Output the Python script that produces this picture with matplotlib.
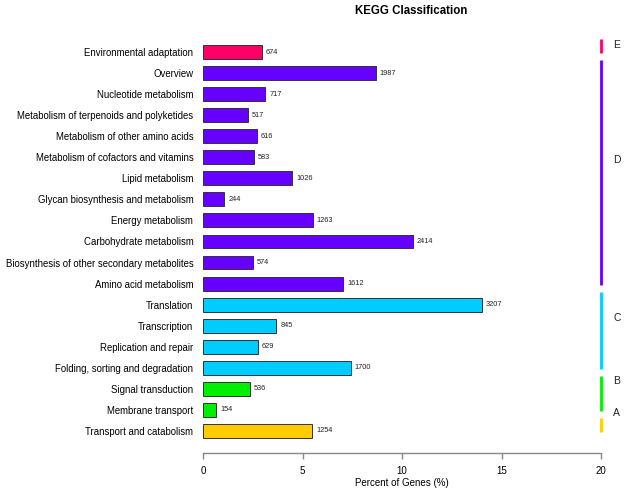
import matplotlib
matplotlib.use("Agg")
import matplotlib.pyplot as plt

# Data (top to bottom)
CATEGORIES = [
    "Environmental adaptation",
    "Overview",
    "Nucleotide metabolism",
    "Metabolism of terpenoids and polyketides",
    "Metabolism of other amino acids",
    "Metabolism of cofactors and vitamins",
    "Lipid metabolism",
    "Glycan biosynthesis and metabolism",
    "Energy metabolism",
    "Carbohydrate metabolism",
    "Biosynthesis of other secondary metabolites",
    "Amino acid metabolism",
    "Translation",
    "Transcription",
    "Replication and repair",
    "Folding, sorting and degradation",
    "Signal transduction",
    "Membrane transport",
    "Transport and catabolism",
]
COUNTS = [674, 1987, 717, 517, 616, 583, 1026, 244, 1263, 2414, 574, 1612,
          3207, 845, 629, 1700, 536, 154, 1254]
PERCENTS = [2.94, 8.68, 3.13, 2.26, 2.69, 2.55, 4.48, 1.07, 5.52, 10.54, 2.51, 7.04,
            14.0, 3.69, 2.75, 7.42, 2.34, 0.67, 5.48]
GROUPS = ["E"] + ["D"] * 11 + ["C"] * 4 + ["B"] * 2 + ["A"]
GROUP_COLORS = {
    "E": "#FF0066",
    "D": "#6600FF",
    "C": "#00CCFF",
    "B": "#00EE00",
    "A": "#FFCC00",
}
XTICKS = [0, 5, 10, 15, 20]

FONT = "Liberation Sans"

fig = plt.figure(figsize=(6.25, 4.9), dpi=100)
ax = fig.add_axes([203 / 625, (490 - 453) / 490, (601 - 203) / 625, (453 - 39.4) / 490])

y = list(range(len(CATEGORIES)))
colors = [GROUP_COLORS[g] for g in GROUPS]
ax.barh(y, PERCENTS, height=0.66, color=colors, edgecolor="#333333", linewidth=0.7)

for yi, p, c in zip(y, PERCENTS, COUNTS):
    ax.text(p + 0.2, yi, str(c), va="center", ha="left", fontsize=5.3,
            family=FONT, color="#222222")

ax.set_xlim(0, 20)
ax.set_ylim(19.05, -0.6)
ax.set_yticks(y)
ax.set_yticklabels(CATEGORIES, family=FONT, fontsize=6.9)
ax.tick_params(axis="y", length=0, pad=7)
ax.set_xticks(XTICKS)
ax.set_xticklabels([str(t) for t in XTICKS], family=FONT, fontsize=7)
ax.tick_params(axis="x", length=4, color="#888888", width=1, pad=5)

for side in ["top", "right", "left"]:
    ax.spines[side].set_visible(False)
ax.spines["bottom"].set_color("#888888")
ax.spines["bottom"].set_linewidth(1)

fig.text(402 / 625, 1 - 483 / 490, "Percent of Genes (%)", ha="center", va="center",
         family=FONT, fontsize=7)

# group bars on the right
for g in ["E", "D", "C", "B", "A"]:
    idx = [i for i, gg in enumerate(GROUPS) if gg == g]
    top, bot = min(idx), max(idx)
    ax.plot([20.0, 20.0], [max(top - 0.6, -0.6), bot + 0.05], color=GROUP_COLORS[g],
            linewidth=2, clip_on=False, solid_capstyle="butt")
    ly = max((top + bot) / 2 - 0.87, -0.33)
    ax.text(20.8, ly, g, ha="center", va="center", fontsize=7.5, family=FONT,
            color="#222222", clip_on=False)

fig.text(411 / 625, 1 - 11 / 490, "KEGG Classification", ha="center", va="center",
         fontsize=8.3, fontweight="bold", family=FONT)

fig.savefig("out.png", dpi=100)
